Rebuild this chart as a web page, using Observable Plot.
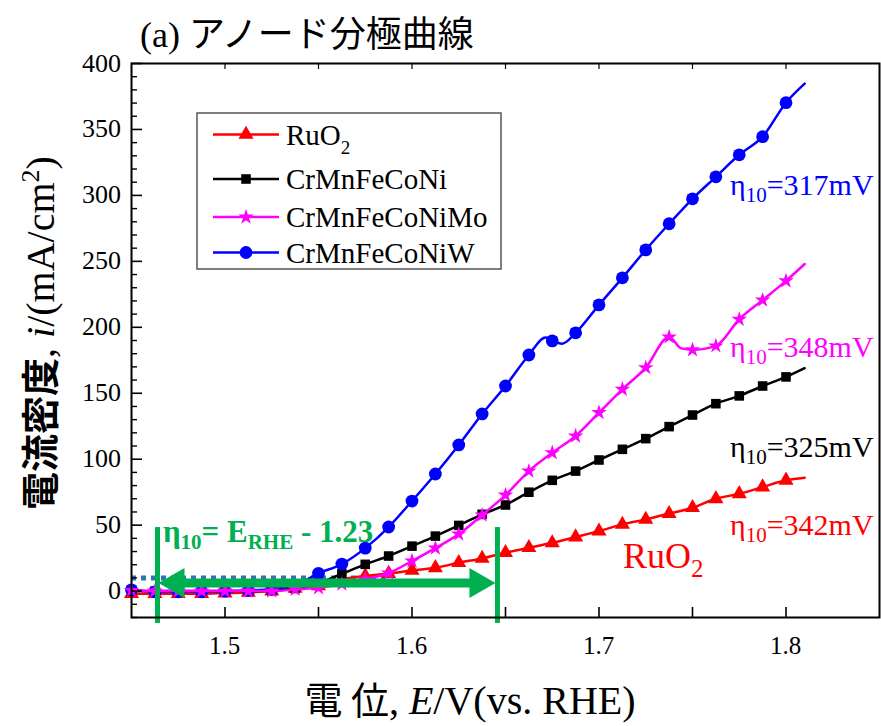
<!DOCTYPE html>
<html><head><meta charset="utf-8">
<script src="https://cdn.jsdelivr.net/npm/d3@7"></script>
<script src="https://cdn.jsdelivr.net/npm/@observablehq/plot@0.6"></script>
<style>body{margin:0;background:#fff} svg{display:block} text{white-space:pre}</style>
</head><body><div id="chart"></div>
<script>
// ---------- data ----------
const potential = [1.45,1.4625,1.475,1.4875,1.5,1.5125,1.525,1.5375,1.55,1.5625,1.575,1.5875,1.6,1.6125,1.625,1.6375,1.65,1.6625,1.675,1.6875,1.7,1.7125,1.725,1.7375,1.75,1.7625,1.775,1.7875,1.8];
const ruO2        = [-2,-2,-2,-2,-1.5,-1,0,2,4,9,11.5,13.3,15.7,17.7,21.5,24.8,29.1,32.9,36.6,41,45.5,50.6,54.4,58.7,63.2,70,73.8,78.9,84];
const crMnFeCoNi  = [0,0,0,0,0,0,0.5,2,6,13.1,20.3,26.6,34.1,41.7,49.8,58.2,65.3,75,84,91,99.4,107.5,115.6,124.7,133.5,142.1,148,155.5,162.4];
const crMnFeCoNiMo= [0.5,0,0,0,0,0,0,1.3,2.5,5.3,9,13.7,22.8,32.6,43.2,57.7,72.8,91,104.9,117.6,135.3,153,169.4,192.7,182.9,185.9,206.1,220.6,235.2];
const crMnFeCoNiW = [1,-0.5,-0.5,-0.5,0,0.5,1.5,4.5,13.5,20.5,32.6,48.6,68.3,88.8,110.8,134.3,155.5,179,189.7,195.8,217,237.5,258.7,278.5,297.4,314.1,330.8,344.5,370.3];
// line-only points (curve detail between markers and the line ends)
const ruO2Line  = [[1.81, 86]];
const niLine    = [[1.81, 169]];
const moLine    = [[1.744, 184], [1.81, 248]];
const wLine     = [[1.6714, 192.2], [1.6803, 187.6], [1.81, 384.7]];

const seriesNames  = ["RuO2", "CrMnFeCoNi", "CrMnFeCoNiMo", "CrMnFeCoNiW"];
const seriesColors = ["#ff0000", "#000000", "#ff00ff", "#0000ff"];
const seriesSymbols= ["triangle", "square", "star", "circle"];
const seriesR      = [5.6, 5.4, 4.9, 6.4];

const etaLabels = ["317", "348", "325", "342"];          // mV, per series W, Mo, Ni, RuO2
const etaColors = ["#0000ff", "#ff00ff", "#000000", "#ff0000"];
const etaX = [1.7703, 1.7703, 1.7703, 1.7703];
const etaY = [299.9, 177.1, 101.3, 42.2];

const xTickLabels = [1.5, 1.6, 1.7, 1.8];
const xTicks = [1.5, 1.55, 1.6, 1.65, 1.7, 1.75, 1.8];
const yTickLabels = [0, 50, 100, 150, 200, 250, 300, 350, 400];
const yMinor = [-20,-10,10,20,30,40,60,70,80,90,110,120,130,140,160,170,180,190,210,220,230,240,260,270,280,290,310,320,330,340,360,370,380,390];

const refLevel = [{y: 10, x1: 1.45, x2: 1.5875}];       // dotted 10 mA/cm2 line
const greenBounds = [1.4639, 1.6457];                    // vertical markers
const greenSpan = {y1: -24.5, y2: 48.2};
const arrowY = 5.8;
const formulaPos = {x: 1.4671, y: 36.9};
const ruLabelPos = {x: 1.7131, y: 17.1};

// ---------- build tables ----------
const valueSets = [ruO2, crMnFeCoNi, crMnFeCoNiMo, crMnFeCoNiW];
const lineExtras = [ruO2Line, niLine, moLine, wLine];
const markers = valueSets.map(vals => potential.map((x, i) => ({x, y: vals[i]})));
const lines = markers.map((m, k) => m.concat(lineExtras[k].map(([x, y]) => ({x, y}))).sort((a, b) => a.x - b.x));

const SERIF = "'Liberation Serif', 'Times New Roman', serif";
const CJK = "'Noto Sans CJK JP', sans-serif";
const W = 881, H = 726, ML = 131, MR = 2, MT = 63, MB = 109;
const FW = W - ML - MR, FH = H - MT - MB;

const drawOrder = [0, 1, 3, 2];
const seriesMarks = drawOrder.flatMap(k => [
  Plot.line(lines[k], {x: "x", y: "y", stroke: seriesColors[k], strokeWidth: 2.5, curve: "monotone-x"}),
  Plot.dot(markers[k], {x: "x", y: "y", symbol: seriesSymbols[k], r: seriesR[k], fill: seriesColors[k], stroke: "none"})
]);

const plot = Plot.plot({
  width: W, height: H,
  marginLeft: ML, marginRight: MR, marginTop: MT, marginBottom: MB,
  style: {fontFamily: SERIF, fontSize: "26px", background: "white", color: "black"},
  x: {domain: [1.45, 1.85], axis: null},
  y: {domain: [-20, 400], axis: null},
  marks: [
    Plot.ruleY(refLevel, {y: "y", x1: "x1", x2: "x2", stroke: "#2e75b6", strokeWidth: 5, strokeDasharray: "5,5"}),
    ...seriesMarks,
    Plot.ruleX(greenBounds, {y1: greenSpan.y1, y2: greenSpan.y2, stroke: "#00b050", strokeWidth: 5}),
    Plot.ruleX(xTicks, {insetTop: FH - 10, stroke: "black", strokeWidth: 1.6}),
    Plot.ruleX(xTicks, {insetBottom: FH - 6, stroke: "black", strokeWidth: 1.2}),
    Plot.ruleY(yTickLabels, {insetRight: FW - 11, stroke: "black", strokeWidth: 1.6}),
    Plot.ruleY(yMinor, {insetRight: FW - 6, stroke: "black", strokeWidth: 1.4}),
    Plot.frame({stroke: "black", strokeWidth: 2})
  ]
});
document.getElementById("chart").appendChild(plot);

// ---------- text and decorations placed through the plot's own scales ----------
const svg = d3.select(plot);
const sx = plot.scale("x"), sy = plot.scale("y");
const X = v => sx.apply(v), Y = v => sy.apply(v);

function rich(parent, x, y, parts, opts = {}) {
  const t = parent.append("text").attr("x", x).attr("y", y)
    .attr("fill", opts.fill || "black").attr("text-anchor", opts.anchor || "start");
  if (opts.transform) t.attr("transform", opts.transform);
  let shift = 0;
  for (const p of parts) {
    const s = t.append("tspan").text(p.t).attr("font-family", p.f || SERIF).attr("font-size", p.s);
    const target = p.sh || 0;
    if (target !== shift) { s.attr("dy", target - shift); shift = target; }
    if (p.i) s.attr("font-style", "italic");
    if (p.w) s.attr("font-weight", p.w);
  }
  return t;
}

// tick labels
const gT = svg.append("g").attr("aria-label", "tick labels");
xTickLabels.forEach(v => rich(gT, X(v), H - MB + 37, [{t: v.toFixed(1), s: 25}], {anchor: "middle"}));
yTickLabels.forEach(v => rich(gT, ML - 10, Y(v) + 8.5, [{t: String(v), s: 26}], {anchor: "end"}));

// green arrow
const gA = svg.append("g");
const green = "#00b050";
const xa = X(greenBounds[0]) + 1.5, xb = X(greenBounds[1]) - 1.5, ya = Y(arrowY);
const headL = 26, headH = 15;
gA.append("line").attr("x1", xa + headL - 4).attr("x2", xb - headL + 4).attr("y1", ya).attr("y2", ya)
  .attr("stroke", green).attr("stroke-width", 9);
gA.append("path").attr("d", `M${xa},${ya}L${xa + headL},${ya - headH}L${xa + headL},${ya + headH}Z`).attr("fill", green);
gA.append("path").attr("d", `M${xb},${ya}L${xb - headL},${ya - headH}L${xb - headL},${ya + headH}Z`).attr("fill", green);

// formula
rich(svg, X(formulaPos.x), Y(formulaPos.y), [
  {t: "η", s: 31, w: "bold"},
  {t: "10", s: 21, sh: 7, w: "bold"},
  {t: "= E", s: 31, w: "bold"},
  {t: "RHE", s: 21, sh: 7, w: "bold"},
  {t: " - 1.23", s: 31, w: "bold"}
], {fill: green});

// η labels
etaLabels.forEach((v, i) => {
  rich(svg, X(etaX[i]), Y(etaY[i]), [
    {t: "η", s: 30}, {t: "10", s: 21, sh: 7}, {t: "=" + v + "mV", s: 30}
  ], {fill: etaColors[i]});
});

// RuO2 label
rich(svg, X(ruLabelPos.x), Y(ruLabelPos.y), [
  {t: "RuO", s: 36}, {t: "2", s: 25, sh: 9}
], {fill: "#ff0000"});

// legend
const lg = svg.append("g");
lg.append("rect").attr("x", 197).attr("y", 113).attr("width", 304).attr("height", 156)
  .attr("fill", "white").attr("stroke", "#555").attr("stroke-width", 1.5);
const rowY = [134.5, 179, 217, 252.5];
const legendParts = [
  [{t: "RuO", s: 29}, {t: "2", s: 19, sh: 9}],
  [{t: "CrMnFeCoNi", s: 29}],
  [{t: "CrMnFeCoNiMo", s: 29}],
  [{t: "CrMnFeCoNiW", s: 29}]
];
const symMap = {triangle: d3.symbolTriangle, square: d3.symbolSquare, star: d3.symbolStar, circle: d3.symbolCircle};
seriesNames.forEach((name, k) => {
  const y = rowY[k];
  lg.append("line").attr("x1", 213).attr("x2", 279).attr("y1", y).attr("y2", y)
    .attr("stroke", seriesColors[k]).attr("stroke-width", 2.5);
  lg.append("path").attr("transform", `translate(246,${y})`)
    .attr("d", d3.symbol(symMap[seriesSymbols[k]], seriesR[k] * seriesR[k] * Math.PI)())
    .attr("fill", seriesColors[k]);
  rich(lg, 286, y + 10, legendParts[k]);
});

// title
rich(svg, 140, 47, [
  {t: "(a) ", s: 36},
  {t: "アノード分極曲線", s: 36, f: CJK}
]);

// x label
rich(svg, 470, 714, [
  {t: "電 位", s: 38, f: CJK},
  {t: ", ", s: 40},
  {t: "E", s: 40, i: true},
  {t: "/V(vs. RHE)", s: 40}
], {anchor: "middle"});

// y label
rich(svg, 0, 0, [
  {t: "電流密度", s: 38, f: CJK, w: "bold"},
  {t: ", ", s: 40},
  {t: "i", s: 40, i: true},
  {t: "/(mA/cm", s: 40},
  {t: "2", s: 26, sh: -15},
  {t: ")", s: 40}
], {anchor: "middle", transform: "translate(54,333) rotate(-90)"});
</script>
</body></html>
